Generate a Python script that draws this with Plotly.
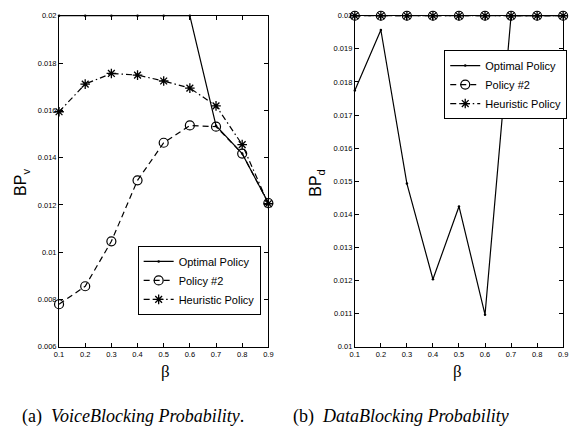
import plotly.graph_objects as go

# Load factor beta on the x axis
beta = [0.1, 0.2, 0.3, 0.4, 0.5, 0.6, 0.7, 0.8, 0.9]

# (a) voice blocking probability
bpv_optimal = [0.02, 0.02, 0.02, 0.02, 0.02, 0.02, 0.01535, 0.01417, 0.01208]
bpv_policy2 = [0.0078, 0.00856, 0.01046, 0.01304, 0.01463, 0.01536, 0.01531, 0.01417, 0.01208]
bpv_heuristic = [0.01594, 0.01711, 0.01756, 0.01749, 0.01724, 0.01694, 0.01619, 0.01455, 0.01205]

# (b) data blocking probability
bpd_optimal = [0.01774, 0.01957, 0.01493, 0.01204, 0.01424, 0.01097, 0.02, 0.02, 0.02]
bpd_policy2 = [0.02, 0.02, 0.02, 0.02, 0.02, 0.02, 0.02, 0.02, 0.02]
bpd_heuristic = [0.02, 0.02, 0.02, 0.02, 0.02, 0.02, 0.02, 0.02, 0.02]

series_names = ["Optimal Policy", "Policy #2", "Heuristic Policy"]

x_ticks = [0.1, 0.2, 0.3, 0.4, 0.5, 0.6, 0.7, 0.8, 0.9]
x_ticktext = ["0.1", "0.2", "0.3", "0.4", "0.5", "0.6", "0.7", "0.8", "0.9"]
yv_ticks = [0.006, 0.008, 0.01, 0.012, 0.014, 0.016, 0.018, 0.02]
yv_ticktext = ["0.006", "0.008", "0.01", "0.012", "0.014", "0.016", "0.018", "0.02"]
yd_ticks = [0.01, 0.011, 0.012, 0.013, 0.014, 0.015, 0.016, 0.017, 0.018, 0.019, 0.02]
yd_ticktext = ["0.01", "0.011", "0.012", "0.013", "0.014", "0.015", "0.016",
               "0.017", "0.018", "0.019", "0.02"]

W, H = 576, 437
BLACK = "black"
LW = 1.2

styles = [
    dict(line=dict(color=BLACK, width=LW, dash="solid"),
         marker=dict(symbol="circle", size=2.5, color=BLACK)),
    dict(line=dict(color=BLACK, width=LW, dash="6px,4px"),
         marker=dict(symbol="circle-open", size=9, color=BLACK, line=dict(width=1.2))),
    dict(line=dict(color=BLACK, width=LW, dash="6px,3px,1.5px,3px"),
         marker=dict(symbol="asterisk-open", size=8, color=BLACK, line=dict(width=1.3, color=BLACK))),
]

fig = go.Figure()

for name, ys, st in zip(series_names, [bpv_optimal, bpv_policy2, bpv_heuristic], styles):
    fig.add_trace(go.Scatter(x=beta, y=ys, name=name, mode="lines+markers",
                             xaxis="x", yaxis="y", legend="legend",
                             cliponaxis=False, **st))

for name, ys, st in zip(series_names, [bpd_optimal, bpd_policy2, bpd_heuristic], styles):
    fig.add_trace(go.Scatter(x=beta, y=ys, name=name, mode="lines+markers",
                             xaxis="x2", yaxis="y2", legend="legend2",
                             cliponaxis=False, **st))

tick_font = dict(family="Liberation Sans, Arial, sans-serif", size=7.5, color=BLACK)

def px_x(p):
    return p / W

def px_y(p):
    return 1 - p / H

axis_common = dict(showline=True, linecolor=BLACK, linewidth=1, mirror="ticks",
                   ticks="inside", ticklen=4, tickcolor=BLACK, tickwidth=1,
                   showgrid=False, zeroline=False, tickfont=tick_font)

y_dom = [px_y(350), px_y(12)]

legend_font = dict(family="Liberation Sans, Arial, sans-serif", size=11, color=BLACK)

fig.update_layout(
    width=W, height=H,
    margin=dict(l=0, r=0, t=0, b=0),
    paper_bgcolor="white", plot_bgcolor="white",
    xaxis=dict(domain=[px_x(55), px_x(268)], range=[0.1, 0.9], anchor="y",
               tickvals=x_ticks, ticktext=x_ticktext, **axis_common),
    yaxis=dict(domain=y_dom, range=[0.006, 0.02], anchor="x",
               tickvals=yv_ticks, ticktext=yv_ticktext, **axis_common),
    xaxis2=dict(domain=[px_x(356), px_x(568)], range=[0.1, 0.9], anchor="y2",
                tickvals=x_ticks, ticktext=x_ticktext, **axis_common),
    yaxis2=dict(domain=y_dom, range=[0.01, 0.02], anchor="x2",
                tickvals=yd_ticks, ticktext=yd_ticktext, **axis_common),
    legend=dict(x=px_x(135), y=px_y(247), xanchor="left", yanchor="top",
                bgcolor="white", bordercolor=BLACK, borderwidth=1,
                font=legend_font, itemwidth=30, tracegroupgap=0),
    legend2=dict(x=px_x(447), y=px_y(47), xanchor="left", yanchor="top",
                 bgcolor="white", bordercolor=BLACK, borderwidth=1,
                 font=legend_font, itemwidth=30, tracegroupgap=0),
    showlegend=True,
)

label_font = dict(family="Liberation Sans, Arial, sans-serif", size=16, color=BLACK)
beta_font = dict(family="Liberation Serif, Times New Roman, serif", size=17, color=BLACK)
cap_font = dict(family="Liberation Serif, Times New Roman, serif", size=18, color=BLACK)

annotations = [
    dict(text="BP<sub>v</sub>", x=px_x(17), y=px_y(182), textangle=-90),
    dict(text="BP<sub>d</sub>", x=px_x(317), y=px_y(182), textangle=-90),
]
for a in annotations:
    a.update(xref="paper", yref="paper", showarrow=False, font=label_font,
             xanchor="center", yanchor="middle")

annotations += [
    dict(text="β", x=px_x(163), y=px_y(375), xref="paper", yref="paper",
         showarrow=False, font=beta_font, xanchor="center", yanchor="middle"),
    dict(text="β", x=px_x(461), y=px_y(375), xref="paper", yref="paper",
         showarrow=False, font=beta_font, xanchor="center", yanchor="middle"),
    dict(text="(a)&nbsp;&nbsp;<i>VoiceBlocking Probability</i>.", x=px_x(15), y=px_y(421),
         xref="paper", yref="paper", showarrow=False, font=cap_font,
         xanchor="left", yanchor="middle"),
    dict(text="(b)&nbsp;&nbsp;<i>DataBlocking Probability</i>", x=px_x(291), y=px_y(421),
         xref="paper", yref="paper", showarrow=False, font=cap_font,
         xanchor="left", yanchor="middle"),
]
fig.update_layout(annotations=annotations)

fig.write_html("out.html")
